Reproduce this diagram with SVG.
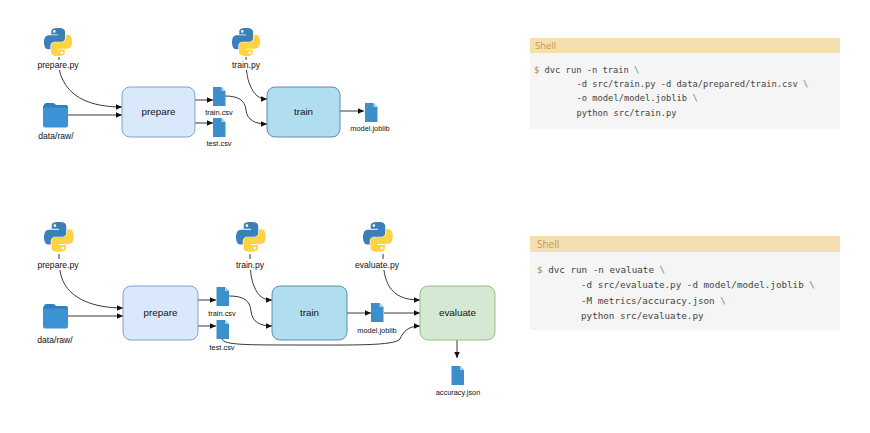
<svg xmlns="http://www.w3.org/2000/svg" xmlns:xlink="http://www.w3.org/1999/xlink" width="870" height="433" viewBox="0 0 870 433">
<style>
text{font-family:"Liberation Sans",Arial,sans-serif;fill:#111;text-anchor:middle}
.lbl{font-size:8.600px}
.sm{font-size:7.400px}
.box{font-size:9.800px}
.c{fill:none;stroke:#222;stroke-width:.9;marker-end:url(#a)}
.bx{stroke-width:.8}
.mono{font-family:"DejaVu Sans Mono","Liberation Mono",monospace;text-anchor:start;fill:#444;white-space:pre}
.hdr{font-family:"Open Sans","Liberation Sans",sans-serif;text-anchor:start;fill:#c49a50}
.g{fill:#5a9a5a}
.d{fill:#a8842c}
</style>
<defs>
<marker id="a" markerUnits="userSpaceOnUse" markerWidth="7" markerHeight="7" refX="6.500" refY="3" orient="auto"><path d="M0 0L6.500 3L0 6Z" fill="#111"/></marker>
<g id="py">
<path fill="#3b7fb8" fill-rule="evenodd" d="M54.9 0C50.3 0 46 .4 42.1 1.1C30.7 3.1 28.6 7.3 28.6 15V25.2H55.6V28.6H18.5C10.7 28.6 3.8 33.3 1.7 42.3C-.8 52.5-.9 58.9 1.7 69.5C3.6 77.4 8.1 83.1 15.9 83.1H25.1V70.8C25.1 62 32.8 54.2 41.9 54.2H68.9C76.4 54.2 82.4 48 82.4 40.5V15C82.4 7.7 76.3 2.3 68.9 1.1C64.3 .3 59.5 0 54.9 0ZM40.3 8.2a5.1 5.1 0 1 1 0 10.2a5.1 5.1 0 1 1 0-10.2Z"/>
<path transform="rotate(180 55 55)" fill="#ffd343" fill-rule="evenodd" d="M54.9 0C50.3 0 46 .4 42.1 1.1C30.7 3.1 28.6 7.3 28.6 15V25.2H55.6V28.6H18.5C10.7 28.6 3.8 33.3 1.7 42.3C-.8 52.5-.9 58.9 1.7 69.5C3.6 77.4 8.1 83.1 15.9 83.1H25.1V70.8C25.1 62 32.8 54.2 41.9 54.2H68.9C76.4 54.2 82.4 48 82.4 40.5V15C82.4 7.7 76.3 2.3 68.9 1.1C64.3 .3 59.5 0 54.9 0ZM40.3 8.2a5.1 5.1 0 1 1 0 10.2a5.1 5.1 0 1 1 0-10.2Z"/>
</g>
<g id="file"><path d="M0 0H8.500L12.500 4V19H0Z" fill="#3d8fcc"/><path d="M8.500 0L12.500 4H8.500Z" fill="#a9d0ec"/></g>
<g id="folder"><path d="M1 2.500Q1 0 3.500 0H10Q12 0 13 2H23Q25 2 25 4V6H0V3Z" fill="#2f7fbf"/><rect x="0" y="4.500" width="25" height="20" rx="2" fill="#3b93d6"/></g>
</defs>
<rect width="870" height="433" fill="#fff"/>

<g id="connectors">
<path class="c" d="M59 57C59 66 59 72 62 78C70 97 90 107 122 107"/>
<path class="c" d="M67 115H122"/>
<path class="c" d="M195 100H213"/>
<path class="c" d="M195 123H213"/>
<path class="c" d="M246 57C246 70 247 78 250 85C254 95 259 99 267 99"/>
<path class="c" d="M225 96C238 96 245 100 246 110C247 120 255 124 267 124"/>
<path class="c" d="M340 111H364"/>
<path class="c" d="M59 254C59 266 60 276 64 283C72 298 92 308 123 308"/>
<path class="c" d="M68 316H123"/>
<path class="c" d="M198 300H216"/>
<path class="c" d="M198 326H216"/>
<path class="c" d="M250 254C250 270 251 279 254 286C258 296 263 300 272 300"/>
<path class="c" d="M229 296C243 296 250 300 251 311C252 322 260 326 272 326"/>
<path class="c" d="M347 313H371"/>
<path class="c" d="M384 313H420"/>
<path class="c" d="M383 254C383 270 385 279 389 286C395 296 405 300 420 300"/>
<path class="c" d="M222 339C224 345 245 345 300 345C350 345 395 346 400 339C403 332 408 326 420 326"/>
<path class="c" d="M457 340V358"/>
</g>

<g id="top-prepare-py"><use xlink:href="#py" href="#py" transform="translate(44 28) scale(.255)"/><rect x="37" y="60" width="43" height="10" fill="#fff"/><text class="lbl" x="58" y="68">prepare.py</text></g>
<g id="top-data-raw"><use xlink:href="#folder" href="#folder" transform="translate(43 103)"/><text class="lbl" x="56" y="139">data/raw/</text></g>
<g id="top-prepare"><rect class="bx" x="122" y="87" width="73" height="50" rx="8" fill="#dae8fc" stroke="#6c8ebf"/><text class="box" x="158.500" y="115">prepare</text></g>
<g id="top-train-csv"><use xlink:href="#file" href="#file" x="213" y="87"/><text class="sm" x="219" y="115">train.csv</text></g>
<g id="top-test-csv"><use xlink:href="#file" href="#file" x="213" y="118"/><text class="sm" x="219" y="146">test.csv</text></g>
<g id="top-train-py"><use xlink:href="#py" href="#py" transform="translate(232 28) scale(.255)"/><rect x="230" y="60" width="33" height="10" fill="#fff"/><text class="lbl" x="246" y="68">train.py</text></g>
<g id="top-train"><rect class="bx" x="267" y="87" width="73" height="50" rx="8" fill="#b1ddf0" stroke="#3e7a96"/><text class="box" x="303.500" y="115">train</text></g>
<g id="top-model"><use xlink:href="#file" href="#file" x="365" y="103"/><text class="sm" x="370" y="131">model.joblib</text></g>

<g id="shell-1">
<rect x="530" y="38" width="310" height="15" fill="#f5dfb0"/>
<rect x="530" y="53" width="310" height="76" fill="#f5f5f5"/>
<text class="hdr" x="535" y="49" font-size="9.500">Shell</text>
<text class="mono" font-size="8.750"><tspan x="534" y="73"><tspan class="d">$</tspan> dvc run -n train <tspan class="g">\</tspan></tspan><tspan x="576.500" y="87">-d src/train.py -d data/prepared/train.csv <tspan class="g">\</tspan></tspan><tspan x="576.500" y="101">-o model/model.joblib <tspan class="g">\</tspan></tspan><tspan x="576.500" y="116">python src/train.py</tspan></text>
</g>

<g id="bot-prepare-py"><use xlink:href="#py" href="#py" transform="translate(44 222) scale(.27)"/><rect x="36" y="259" width="45" height="11" fill="#fff"/><text class="lbl" x="58" y="267.500">prepare.py</text></g>
<g id="bot-data-raw"><use xlink:href="#folder" href="#folder" transform="translate(43 304)"/><text class="lbl" x="55" y="343">data/raw/</text></g>
<g id="bot-prepare"><rect class="bx" x="123" y="286" width="75" height="54" rx="8" fill="#dae8fc" stroke="#6c8ebf"/><text class="box" x="160.500" y="316">prepare</text></g>
<g id="bot-train-csv"><use xlink:href="#file" href="#file" x="216.500" y="287"/><text class="sm" x="222" y="316">train.csv</text></g>
<g id="bot-test-csv"><use xlink:href="#file" href="#file" x="216.500" y="320"/><text class="sm" x="222" y="350">test.csv</text></g>
<g id="bot-train-py"><use xlink:href="#py" href="#py" transform="translate(236 222) scale(.27)"/><rect x="234" y="259" width="33" height="11" fill="#fff"/><text class="lbl" x="250" y="267.500">train.py</text></g>
<g id="bot-train"><rect class="bx" x="272" y="286" width="75" height="54" rx="8" fill="#b1ddf0" stroke="#3e7a96"/><text class="box" x="309.500" y="316">train</text></g>
<g id="bot-model"><use xlink:href="#file" href="#file" x="371" y="303"/><text class="sm" x="377" y="333">model.joblib</text></g>
<g id="bot-evaluate-py"><use xlink:href="#py" href="#py" transform="translate(363 222) scale(.27)"/><rect x="354" y="259" width="46" height="11" fill="#fff"/><text class="lbl" x="377" y="267.500">evaluate.py</text></g>
<g id="bot-evaluate"><rect class="bx" x="420" y="286" width="75" height="54" rx="8" fill="#d5e8d4" stroke="#82b366"/><text class="box" x="457.500" y="316">evaluate</text></g>
<g id="bot-accuracy"><use xlink:href="#file" href="#file" x="451.500" y="366"/><text class="sm" x="458" y="395">accuracy.json</text></g>

<g id="shell-2">
<rect x="530" y="236" width="310" height="16" fill="#f5dfb0"/>
<rect x="530" y="252" width="310" height="78" fill="#f5f5f5"/>
<text class="hdr" x="537" y="248" font-size="10">Shell</text>
<text class="mono" font-size="9.250"><tspan x="537" y="273"><tspan class="d">$</tspan> dvc run -n evaluate <tspan class="g">\</tspan></tspan><tspan x="581" y="288">-d src/evaluate.py -d model/model.joblib <tspan class="g">\</tspan></tspan><tspan x="581" y="303.500">-M metrics/accuracy.json <tspan class="g">\</tspan></tspan><tspan x="581" y="318.500">python src/evaluate.py</tspan></text>
</g>
</svg>
